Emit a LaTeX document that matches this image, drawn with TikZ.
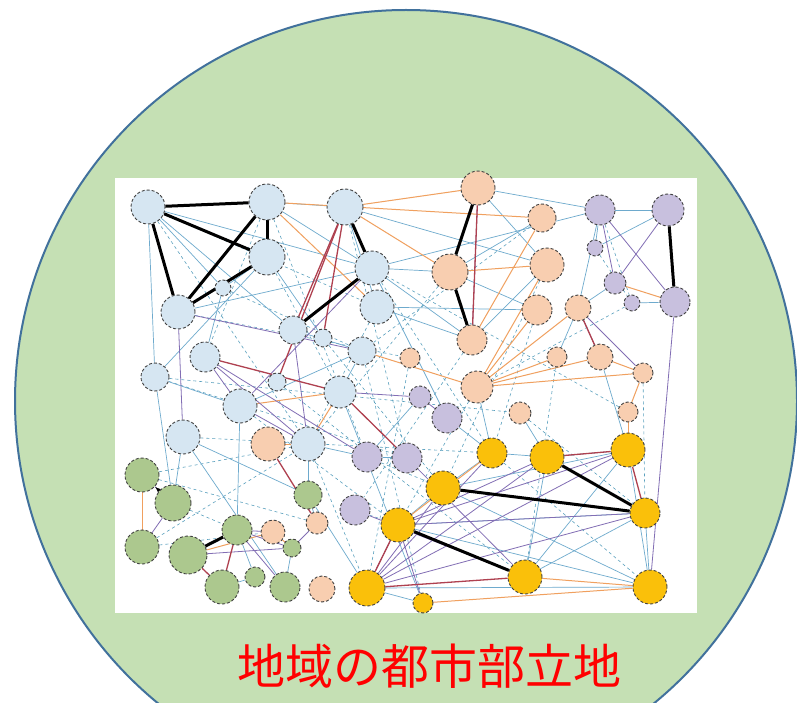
\documentclass[tikz,border=0pt]{standalone}
\usepackage{fontspec}
\newfontfamily\cjk{Noto Sans CJK JP}
\usetikzlibrary{arrows.meta}
\pgfdeclarelayer{bg}
\pgfdeclarelayer{edges}
\pgfsetlayers{bg,edges,main}
\definecolor{ringfill}{RGB}{197,224,180}
\definecolor{ringline}{RGB}{65,113,156}
\definecolor{cb}{RGB}{214,230,242}
\definecolor{co}{RGB}{248,206,176}
\definecolor{cp}{RGB}{200,192,222}
\definecolor{cy}{RGB}{250,192,10}
\definecolor{cg}{RGB}{172,200,142}
\definecolor{lb}{RGB}{110,170,205}
\definecolor{lt}{RGB}{90,160,190}
\definecolor{lo}{RGB}{240,160,95}
\definecolor{lp}{RGB}{130,110,180}
\definecolor{lr}{RGB}{175,65,80}
\definecolor{titlered}{RGB}{255,0,0}
\tikzset{
  nd/.style={circle,inner sep=0pt,draw=black!75,line width=0.9pt,densely dashed},
  nb/.style={nd,fill=cb},
  no/.style={nd,fill=co},
  np/.style={nd,fill=cp},
  ny/.style={nd,fill=cy},
  ng/.style={nd,fill=cg},
  sz/.style={minimum size=#1pt},
  eb/.style={draw=lb,line width=0.7pt},
  ed/.style={draw=lt,line width=0.6pt,dashed},
  eo/.style={draw=lo,line width=1pt},
  ep/.style={draw=lp,line width=0.8pt},
  er/.style={draw=lr,line width=1.3pt},
  ek/.style={draw=black,line width=3pt},
}
\begin{document}
\begin{tikzpicture}[x=1pt,y=-1pt]
\useasboundingbox (0,0) rectangle (797,703);
\begin{pgfonlayer}{bg}
\begin{scope}
\clip (0,0) rectangle (797,703);
\fill[white] (0,0) rectangle (797,703);
\draw[fill=ringfill,draw=ringline,line width=2pt] (406,401) circle (391);
\end{scope}
\fill[white] (115,178) rectangle (697,613);
\end{pgfonlayer}
% light blue
\node[nb,sz=34] (b1) at (148,207) {};
\node[nb,sz=36] (b2) at (267,202) {};
\node[nb,sz=36] (b3) at (267,257) {};
\node[nb,sz=16] (b4) at (223,288) {};
\node[nb,sz=34] (b5) at (178,312) {};
\node[nb,sz=28] (b6) at (293,330) {};
\node[nb,sz=30] (b7) at (205,357) {};
\node[nb,sz=28] (b8) at (155,377) {};
\node[nb,sz=18] (b9) at (277,382) {};
\node[nb,sz=34] (b10) at (240,406) {};
\node[nb,sz=34] (b11) at (183,437) {};
\node[nb,sz=34] (b12) at (308,444) {};
\node[nb,sz=36] (m1) at (345,207) {};
\node[nb,sz=34] (m3) at (372,268) {};
\node[nb,sz=34] (m5) at (377,307) {};
\node[nb,sz=18] (m6) at (323,338) {};
\node[nb,sz=28] (m7) at (362,351) {};
\node[nb,sz=32] (m11) at (340,392) {};
% orange
\node[no,sz=34] (o1) at (478,188) {};
\node[no,sz=36] (o2) at (450,272) {};
\node[no,sz=30] (o3) at (472,340) {};
\node[no,sz=20] (o4) at (410,358) {};
\node[no,sz=32] (o5) at (477,387) {};
\node[no,sz=28] (o6) at (542,218) {};
\node[no,sz=34] (o7) at (547,265) {};
\node[no,sz=30] (o8) at (537,310) {};
\node[no,sz=26] (o9) at (578,308) {};
\node[no,sz=20] (o10) at (557,357) {};
\node[no,sz=26] (o11) at (600,357) {};
\node[no,sz=20] (o12) at (643,373) {};
\node[no,sz=34] (o13) at (268,444) {};
\node[no,sz=22] (o14) at (520,413) {};
\node[no,sz=20] (o15) at (628,412) {};
\node[no,sz=22] (o16) at (317,523) {};
\node[no,sz=24] (o17) at (273,532) {};
\node[no,sz=26] (o18) at (322,589) {};
% purple
\node[np,sz=30] (p1) at (600,210) {};
\node[np,sz=32] (p2) at (668,210) {};
\node[np,sz=16] (p3) at (595,248) {};
\node[np,sz=22] (p4) at (615,283) {};
\node[np,sz=16] (p5) at (632,303) {};
\node[np,sz=30] (p6) at (675,302) {};
\node[np,sz=22] (p7) at (420,397) {};
\node[np,sz=30] (p8) at (447,418) {};
\node[np,sz=30] (p9) at (367,457) {};
\node[np,sz=30] (p10) at (407,458) {};
\node[np,sz=30] (p11) at (355,510) {};
% yellow
\node[ny,sz=30] (y1) at (492,453) {};
\node[ny,sz=34] (y2) at (443,488) {};
\node[ny,sz=34] (y3) at (398,525) {};
\node[ny,sz=36] (y4) at (367,588) {};
\node[ny,sz=20] (y5) at (423,603) {};
\node[ny,sz=34] (y6) at (547,457) {};
\node[ny,sz=34] (y7) at (628,450) {};
\node[ny,sz=30] (y8) at (645,513) {};
\node[ny,sz=34] (y9) at (525,577) {};
\node[ny,sz=34] (y10) at (650,587) {};
% green
\node[ng,sz=34] (g1) at (142,475) {};
\node[ng,sz=36] (g2) at (173,503) {};
\node[ng,sz=34] (g3) at (142,547) {};
\node[ng,sz=30] (g4) at (237,530) {};
\node[ng,sz=28] (g5) at (308,495) {};
\node[ng,sz=38] (g6) at (188,555) {};
\node[ng,sz=18] (g7) at (292,548) {};
\node[ng,sz=34] (g8) at (222,587) {};
\node[ng,sz=20] (g9) at (255,577) {};
\node[ng,sz=30] (g10) at (285,587) {};
\begin{pgfonlayer}{edges}
% dashed teal
\foreach \a/\b in {b1/b12,b2/b7,b2/p9,b3/m11,m1/p10,m3/y1,m5/b12,o2/b12,o5/y3,o7/y2,o6/m7,b8/o14,b11/y1,g1/o16,g2/g4,g3/b12,b10/y3,b12/y4,p11/y3,p9/y2,b1/m5,b4/m7,m6/y2,o3/p11,o8/y1,o14/y8,o15/m3,p5/o5,y1/y10,b9/y9,o4/y4,m7/y5,o10/y9,o12/y8,b5/o4,b8/p10,g1/b12,g3/o17,p3/p5,p1/p5}
  \draw[ed] (\a) -- (\b);
% light blue
\foreach \a/\b in {b1/b8,b1/b6,b1/m3,b5/m3,b8/b3,m1/m5,m3/o2,m3/o3,m3/p8,m5/o3,o9/o10,o15/y7,p1/p3,p1/p2,p2/p3,p5/p6,p4/o9,p1/o9,y1/y6,y1/o5,y2/y1,y6/y9,y7/y9,y8/y10,y7/y10,y3/y2,y4/y5,y2/y10,g8/g9,g7/g10,g5/o16,b11/g5,b10/g4,g2/b11,b2/m1,b3/m6,b6/m7,m7/m11,b7/b4,m5/o8,o2/o6,o2/o8,o3/o7,m1/o7,o1/o7,b12/p9,b12/g5,m11/y5,g4/g9,p9/p10,y6/y7,o14/y6,o11/y7,y3/y10,y4/y10,m3/p1,o1/p1,b8/g2,b11/g10,g5/y4,p8/y1,p7/p9,b1/b4,b3/b4,b2/m3,b8/b10,b10/m7,y2/y7,y3/y8,y9/y8}
  \draw[eb] (\a) -- (\b);
% orange
\foreach \a/\b in {m1/o1,m1/o2,b2/m5,b10/m11,b12/m11,o3/o6,o2/o7,o5/o9,o5/o11,o5/o12,o5/o10,o5/o7,o5/o8,o11/o12,o12/o15,p4/p6,y9/y10,y5/y10,g1/g3,b2/o6,m7/o5,o13/b12,o17/g7,o15/y7,g6/o17,y3/y1}
  \draw[eo] (\a) -- (\b);
% purple
\foreach \a/\b in {b5/b11,b7/b10,b7/b12,p1/p4,p1/p6,p2/p4,p6/y10,o9/o12,y4/y6,y4/y7,y4/y8,y4/y2,y3/y6,y3/y5,y4/y1,g2/g3,g4/g7,g4/g10,g6/g7,g1/g2,b10/b12,m11/p7,p7/p8,b6/b12,o1/o3,m3/b10,o9/o11,y3/y7,y4/y3,p10/y9,b7/p9,g7/o16,p11/y9,o17/g4,b5/m7,y3/y8}
  \draw[ep] (\a) -- (\b);
% dark red
\foreach \a/\b in {b7/m11,m11/p10,o13/o16,y3/y4,y4/y9,y6/y7,y7/y8,g6/g8,g4/g8,m1/b6,m1/m6,m1/b9,o9/o11,o1/o3}
  \draw[er] (\a) -- (\b);
% black
\foreach \a/\b in {b1/b2,b1/b3,b1/b5,b2/b3,b2/b5,b3/b5,m1/m3,m3/b6,o1/o2,o2/o3,p2/p6,g6/g4,y3/y9,y2/y8,y6/y8}
  \draw[ek] (\a) -- (\b);
\draw[black,line width=1.6pt,-{Latex[length=6pt]}] (g2) -- (g1);
\end{pgfonlayer}
\node[text=titlered,font=\cjk\fontsize{48}{52}\selectfont] (title) at (429,666) {地域の都市部立地};
\end{tikzpicture}
\end{document}
